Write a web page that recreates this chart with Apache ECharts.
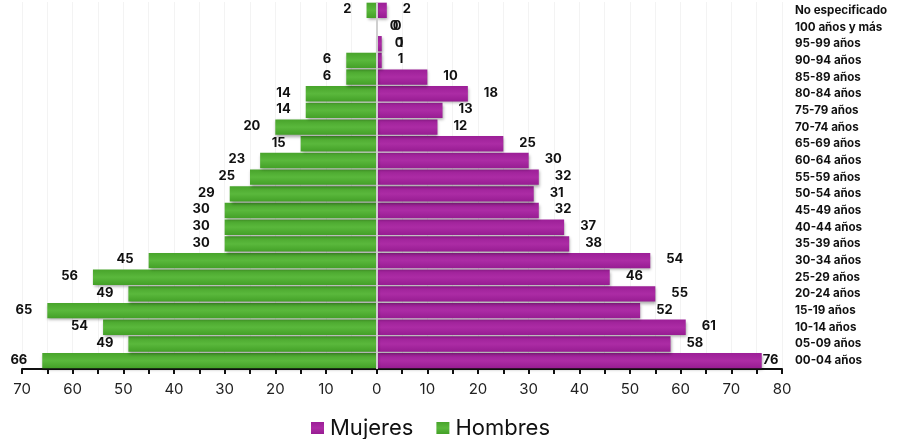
<!DOCTYPE html>
<html>
<head>
<meta charset="utf-8">
<script src="https://cdn.jsdelivr.net/npm/echarts@6/dist/echarts.min.js"></script>
<style>html,body{margin:0;padding:0;background:#fff}#c{width:910px;height:439px}</style>
</head>
<body>
<div id="c"></div>
<script>
const categories = ['00-04 años','05-09 años','10-14 años','15-19 años','20-24 años','25-29 años','30-34 años','35-39 años','40-44 años','45-49 años','50-54 años','55-59 años','60-64 años','65-69 años','70-74 años','75-79 años','80-84 años','85-89 años','90-94 años','95-99 años','100 años y más','No especificado'];
const hombres = [66,49,54,65,49,56,45,30,30,30,29,25,23,15,20,14,14,6,6,0,0,2];
const mujeres = [76,58,61,52,55,46,54,38,37,32,31,32,30,25,12,13,18,10,1,1,0,2];
const tickLabels = {min:-70, max:80, interval:10};

const chart = echarts.init(document.getElementById('c'), null, {renderer:'canvas'});
const green = new echarts.graphic.LinearGradient(0,0,0,1,[{offset:0,color:'#48a42b'},{offset:0.5,color:'#5ab83c'},{offset:1,color:'#43a027'}]);
const purple = new echarts.graphic.LinearGradient(0,0,0,1,[{offset:0,color:'#9c1f97'},{offset:0.5,color:'#ac2ca5'},{offset:1,color:'#971c92'}]);
const lblFont = {fontFamily:'Inter, Liberation Sans, Arial, sans-serif', fontWeight:'bold', fontSize:13, color:'#111'};
const maxM = Math.max(...mujeres);

const hData = hombres.map(v => v === 0 ? {value:-v, label:{position:'right', distance:13}} : -v);
const mData = mujeres.map(v => v === maxM ? {value:v, label:{distance:1}} : v);

chart.setOption({
  animation:false,
  grid:{left:22, right:128, top:2, bottom:70, containLabel:false},
  legend:{
    data:['Mujeres','Hombres'], left:306, top:412, itemWidth:13, itemHeight:12, itemGap:23,
    icon:'rect',
    textStyle:{fontSize:22, color:'#111', fontFamily:'Inter, Liberation Sans, sans-serif', padding:[0,0,0,1]}
  },
  xAxis:{
    type:'value', min:tickLabels.min, max:tickLabels.max, interval:tickLabels.interval,
    axisLine:{show:true, onZero:false, lineStyle:{color:'#111', width:2}},
    axisTick:{show:true, length:5, lineStyle:{color:'#111', width:2}},
    minorTick:{show:true, splitNumber:2, length:5, lineStyle:{color:'#111', width:2}},
    splitLine:{show:true, lineStyle:{color:'#f3f3f3', width:1}},
    minorSplitLine:{show:true, lineStyle:{color:'#f3f3f3', width:1}},
    axisLabel:{formatter:v => Math.abs(v), fontSize:15, color:'#222', margin:13, fontFamily:'Inter, Liberation Sans, sans-serif'}
  },
  yAxis:{
    type:'category', data:categories, position:'right',
    axisLine:{show:false}, axisTick:{show:false},
    axisLabel:{fontSize:11.6, fontWeight:'bold', color:'#111', margin:13, align:'left', fontFamily:'Inter, Liberation Sans, Arial, sans-serif'}
  },
  series:[
    {
      name:'Mujeres', type:'bar', stack:'t', data:mData, barCategoryGap:'8%',
      itemStyle:{color:purple, shadowBlur:3, shadowColor:'rgba(0,0,0,0.35)', shadowOffsetX:1, shadowOffsetY:2},
      label:{show:true, position:'right', distance:16, offset:[0,-1], ...lblFont},
      markLine:{silent:true, symbol:'none', label:{show:false}, lineStyle:{color:'#cfcfcf', width:2, type:'solid'}, data:[{xAxis:0}], z:10}
    },
    {
      name:'Hombres', type:'bar', stack:'t', data:hData, barCategoryGap:'8%',
      itemStyle:{color:green, shadowBlur:3, shadowColor:'rgba(0,0,0,0.35)', shadowOffsetX:1, shadowOffsetY:2},
      label:{show:true, position:'left', distance:15, offset:[0,-1], formatter:p => Math.abs(p.value), ...lblFont}
    }
  ]
});
</script>
</body>
</html>
